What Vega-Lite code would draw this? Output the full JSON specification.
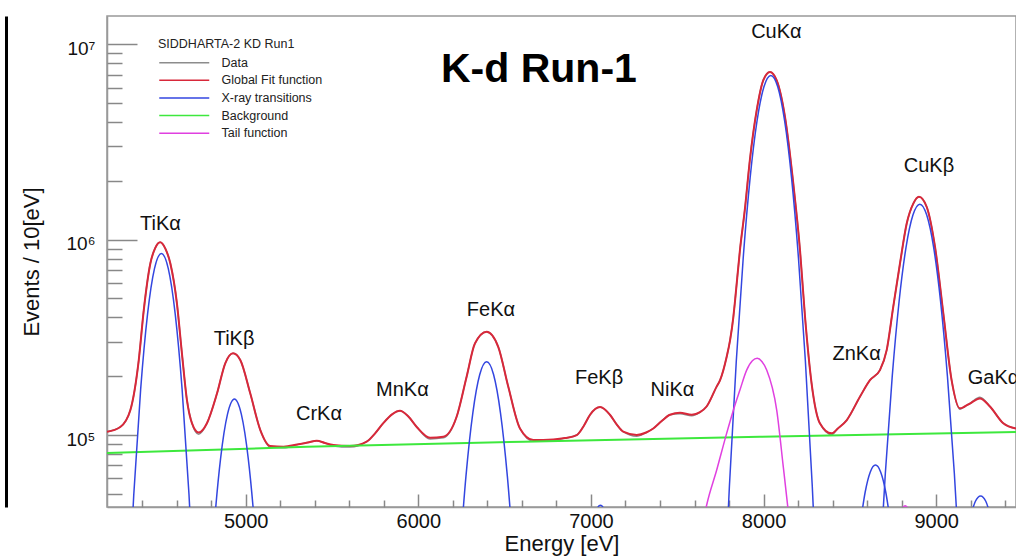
{
  "$schema": "https://vega.github.io/schema/vega-lite/v6.json",
  "width": 909,
  "height": 491,
  "autosize": {"type": "none"},
  "padding": {"left": 107, "top": 16, "right": 0, "bottom": 52},
  "background": "white",
  "config": {"view": {"stroke": "#999999", "strokeWidth": 1.5}},
  "title": {"text": "K-d Run-1", "anchor": "start", "dx": 435, "dy": 107, "offset": 0, "baseline": "alphabetic", "font": "Liberation Sans", "fontSize": 41, "fontWeight": "bold", "color": "#000000"},
  "datasets": {
    "data": [
      {"E":4197,"V":104000,"series":"Data"},{"E":4274,"V":110000,"series":"Data"},{"E":4332,"V":134000,"series":"Data"},{"E":4381,"V":242000,"series":"Data"},{"E":4410,"V":436000,"series":"Data"},{"E":4448,"V":755000,"series":"Data"},{"E":4476,"V":905000,"series":"Data"},{"E":4505,"V":970000,"series":"Data"},{"E":4535,"V":900000,"series":"Data"},{"E":4564,"V":755000,"series":"Data"},{"E":4602,"V":472000,"series":"Data"},{"E":4631,"V":262000,"series":"Data"},{"E":4660,"V":151000,"series":"Data"},{"E":4689,"V":115000,"series":"Data"},{"E":4728,"V":101000,"series":"Data"},{"E":4776,"V":115000,"series":"Data"},{"E":4834,"V":163000,"series":"Data"},{"E":4882,"V":233000,"series":"Data"},{"E":4927,"V":262000,"series":"Data"},{"E":4969,"V":242000,"series":"Data"},{"E":5027,"V":163000,"series":"Data"},{"E":5085,"V":106000,"series":"Data"},{"E":5143,"V":86500,"series":"Data"},{"E":5220,"V":86000,"series":"Data"},{"E":5300,"V":89500,"series":"Data"},{"E":5360,"V":91500,"series":"Data"},{"E":5412,"V":93500,"series":"Data"},{"E":5460,"V":91000,"series":"Data"},{"E":5508,"V":88000,"series":"Data"},{"E":5604,"V":86800,"series":"Data"},{"E":5701,"V":92500,"series":"Data"},{"E":5750,"V":102000,"series":"Data"},{"E":5797,"V":115000,"series":"Data"},{"E":5850,"V":128000,"series":"Data"},{"E":5894,"V":133000,"series":"Data"},{"E":5940,"V":125000,"series":"Data"},{"E":5991,"V":110000,"series":"Data"},{"E":6068,"V":95500,"series":"Data"},{"E":6145,"V":96800,"series":"Data"},{"E":6222,"V":124000,"series":"Data"},{"E":6280,"V":199000,"series":"Data"},{"E":6328,"V":294000,"series":"Data"},{"E":6396,"V":338000,"series":"Data"},{"E":6463,"V":283000,"series":"Data"},{"E":6521,"V":177000,"series":"Data"},{"E":6589,"V":108000,"series":"Data"},{"E":6666,"V":93000,"series":"Data"},{"E":6782,"V":93800,"series":"Data"},{"E":6850,"V":96500,"series":"Data"},{"E":6918,"V":100000,"series":"Data"},{"E":6960,"V":112000,"series":"Data"},{"E":6995,"V":127000,"series":"Data"},{"E":7053,"V":139000,"series":"Data"},{"E":7110,"V":127000,"series":"Data"},{"E":7150,"V":113000,"series":"Data"},{"E":7187,"V":104000,"series":"Data"},{"E":7265,"V":98500,"series":"Data"},{"E":7320,"V":103000,"series":"Data"},{"E":7361,"V":108000,"series":"Data"},{"E":7410,"V":118000,"series":"Data"},{"E":7458,"V":127000,"series":"Data"},{"E":7516,"V":128500,"series":"Data"},{"E":7584,"V":125500,"series":"Data"},{"E":7632,"V":131000,"series":"Data"},{"E":7670,"V":140000,"series":"Data"},{"E":7728,"V":177000,"series":"Data"},{"E":7748,"V":191000,"series":"Data"},{"E":7786,"V":251000,"series":"Data"},{"E":7806,"V":306000,"series":"Data"},{"E":7825,"V":403000,"series":"Data"},{"E":7835,"V":490000,"series":"Data"},{"E":7863,"V":883000,"series":"Data"},{"E":7892,"V":1440000,"series":"Data"},{"E":7921,"V":2580000,"series":"Data"},{"E":7960,"V":4590000,"series":"Data"},{"E":7998,"V":6540000,"series":"Data"},{"E":8037,"V":7220000,"series":"Data"},{"E":8076,"V":6540000,"series":"Data"},{"E":8124,"V":4250000,"series":"Data"},{"E":8172,"V":1940000,"series":"Data"},{"E":8211,"V":883000,"series":"Data"},{"E":8240,"V":403000,"series":"Data"},{"E":8278,"V":184000,"series":"Data"},{"E":8326,"V":115000,"series":"Data"},{"E":8394,"V":100500,"series":"Data"},{"E":8430,"V":108000,"series":"Data"},{"E":8481,"V":119000,"series":"Data"},{"E":8558,"V":157000,"series":"Data"},{"E":8616,"V":191000,"series":"Data"},{"E":8674,"V":215000,"series":"Data"},{"E":8713,"V":272000,"series":"Data"},{"E":8751,"V":453000,"series":"Data"},{"E":8790,"V":755000,"series":"Data"},{"E":8829,"V":1210000,"series":"Data"},{"E":8867,"V":1530000,"series":"Data"},{"E":8900,"V":1660000,"series":"Data"},{"E":8945,"V":1470000,"series":"Data"},{"E":8993,"V":918000,"series":"Data"},{"E":9041,"V":420000,"series":"Data"},{"E":9089,"V":191000,"series":"Data"},{"E":9137,"V":135500,"series":"Data"},{"E":9165,"V":140000,"series":"Data"},{"E":9195,"V":145000,"series":"Data"},{"E":9253,"V":156000,"series":"Data"},{"E":9311,"V":140000,"series":"Data"},{"E":9388,"V":115000,"series":"Data"},{"E":9462,"V":108000,"series":"Data"}
    ],
    "fit": [
      {"E":4197,"V":104000,"series":"Global Fit function"},{"E":4274,"V":110000,"series":"Global Fit function"},{"E":4332,"V":134000,"series":"Global Fit function"},{"E":4381,"V":242000,"series":"Global Fit function"},{"E":4410,"V":436000,"series":"Global Fit function"},{"E":4448,"V":755000,"series":"Global Fit function"},{"E":4476,"V":905000,"series":"Global Fit function"},{"E":4505,"V":970000,"series":"Global Fit function"},{"E":4535,"V":900000,"series":"Global Fit function"},{"E":4564,"V":755000,"series":"Global Fit function"},{"E":4602,"V":472000,"series":"Global Fit function"},{"E":4631,"V":262000,"series":"Global Fit function"},{"E":4660,"V":151000,"series":"Global Fit function"},{"E":4689,"V":115000,"series":"Global Fit function"},{"E":4728,"V":103000,"series":"Global Fit function"},{"E":4776,"V":115000,"series":"Global Fit function"},{"E":4834,"V":163000,"series":"Global Fit function"},{"E":4882,"V":233000,"series":"Global Fit function"},{"E":4927,"V":262000,"series":"Global Fit function"},{"E":4969,"V":242000,"series":"Global Fit function"},{"E":5027,"V":163000,"series":"Global Fit function"},{"E":5085,"V":106000,"series":"Global Fit function"},{"E":5143,"V":87800,"series":"Global Fit function"},{"E":5220,"V":87200,"series":"Global Fit function"},{"E":5300,"V":89500,"series":"Global Fit function"},{"E":5360,"V":91500,"series":"Global Fit function"},{"E":5412,"V":93500,"series":"Global Fit function"},{"E":5460,"V":91000,"series":"Global Fit function"},{"E":5508,"V":89000,"series":"Global Fit function"},{"E":5604,"V":87800,"series":"Global Fit function"},{"E":5701,"V":92500,"series":"Global Fit function"},{"E":5750,"V":102000,"series":"Global Fit function"},{"E":5797,"V":115000,"series":"Global Fit function"},{"E":5850,"V":128000,"series":"Global Fit function"},{"E":5894,"V":133000,"series":"Global Fit function"},{"E":5940,"V":125000,"series":"Global Fit function"},{"E":5991,"V":110000,"series":"Global Fit function"},{"E":6068,"V":96900,"series":"Global Fit function"},{"E":6145,"V":98000,"series":"Global Fit function"},{"E":6222,"V":124000,"series":"Global Fit function"},{"E":6280,"V":199000,"series":"Global Fit function"},{"E":6328,"V":294000,"series":"Global Fit function"},{"E":6396,"V":338000,"series":"Global Fit function"},{"E":6463,"V":283000,"series":"Global Fit function"},{"E":6521,"V":177000,"series":"Global Fit function"},{"E":6589,"V":108000,"series":"Global Fit function"},{"E":6666,"V":94300,"series":"Global Fit function"},{"E":6782,"V":95000,"series":"Global Fit function"},{"E":6850,"V":96500,"series":"Global Fit function"},{"E":6918,"V":100000,"series":"Global Fit function"},{"E":6960,"V":112000,"series":"Global Fit function"},{"E":6995,"V":127000,"series":"Global Fit function"},{"E":7053,"V":139000,"series":"Global Fit function"},{"E":7110,"V":127000,"series":"Global Fit function"},{"E":7150,"V":113000,"series":"Global Fit function"},{"E":7187,"V":104000,"series":"Global Fit function"},{"E":7265,"V":100000,"series":"Global Fit function"},{"E":7320,"V":103000,"series":"Global Fit function"},{"E":7361,"V":108000,"series":"Global Fit function"},{"E":7410,"V":118000,"series":"Global Fit function"},{"E":7458,"V":127000,"series":"Global Fit function"},{"E":7516,"V":130000,"series":"Global Fit function"},{"E":7584,"V":127000,"series":"Global Fit function"},{"E":7632,"V":131000,"series":"Global Fit function"},{"E":7670,"V":140000,"series":"Global Fit function"},{"E":7728,"V":177000,"series":"Global Fit function"},{"E":7748,"V":191000,"series":"Global Fit function"},{"E":7786,"V":251000,"series":"Global Fit function"},{"E":7806,"V":306000,"series":"Global Fit function"},{"E":7825,"V":403000,"series":"Global Fit function"},{"E":7835,"V":490000,"series":"Global Fit function"},{"E":7863,"V":883000,"series":"Global Fit function"},{"E":7892,"V":1440000,"series":"Global Fit function"},{"E":7921,"V":2580000,"series":"Global Fit function"},{"E":7960,"V":4590000,"series":"Global Fit function"},{"E":7998,"V":6540000,"series":"Global Fit function"},{"E":8037,"V":7220000,"series":"Global Fit function"},{"E":8076,"V":6540000,"series":"Global Fit function"},{"E":8124,"V":4250000,"series":"Global Fit function"},{"E":8172,"V":1940000,"series":"Global Fit function"},{"E":8211,"V":883000,"series":"Global Fit function"},{"E":8240,"V":403000,"series":"Global Fit function"},{"E":8278,"V":184000,"series":"Global Fit function"},{"E":8326,"V":115000,"series":"Global Fit function"},{"E":8394,"V":102000,"series":"Global Fit function"},{"E":8430,"V":108000,"series":"Global Fit function"},{"E":8481,"V":119000,"series":"Global Fit function"},{"E":8558,"V":157000,"series":"Global Fit function"},{"E":8616,"V":191000,"series":"Global Fit function"},{"E":8674,"V":215000,"series":"Global Fit function"},{"E":8713,"V":272000,"series":"Global Fit function"},{"E":8751,"V":453000,"series":"Global Fit function"},{"E":8790,"V":755000,"series":"Global Fit function"},{"E":8829,"V":1210000,"series":"Global Fit function"},{"E":8867,"V":1530000,"series":"Global Fit function"},{"E":8900,"V":1660000,"series":"Global Fit function"},{"E":8945,"V":1470000,"series":"Global Fit function"},{"E":8993,"V":918000,"series":"Global Fit function"},{"E":9041,"V":420000,"series":"Global Fit function"},{"E":9089,"V":191000,"series":"Global Fit function"},{"E":9137,"V":137000,"series":"Global Fit function"},{"E":9165,"V":140000,"series":"Global Fit function"},{"E":9195,"V":145000,"series":"Global Fit function"},{"E":9253,"V":154000,"series":"Global Fit function"},{"E":9311,"V":140000,"series":"Global Fit function"},{"E":9388,"V":115000,"series":"Global Fit function"},{"E":9462,"V":108000,"series":"Global Fit function"}
    ],
    "xray": [
      {"E":4312,"V":10000,"series":"X-ray transitions","peak":"TiKa"},{"E":4352,"V":49500,"series":"X-ray transitions","peak":"TiKa"},{"E":4392,"V":171700,"series":"X-ray transitions","peak":"TiKa"},{"E":4432,"V":417000,"series":"X-ray transitions","peak":"TiKa"},{"E":4472,"V":711000,"series":"X-ray transitions","peak":"TiKa"},{"E":4512,"V":849000,"series":"X-ray transitions","peak":"TiKa"},{"E":4552,"V":711000,"series":"X-ray transitions","peak":"TiKa"},{"E":4592,"V":417000,"series":"X-ray transitions","peak":"TiKa"},{"E":4632,"V":171700,"series":"X-ray transitions","peak":"TiKa"},{"E":4672,"V":49500,"series":"X-ray transitions","peak":"TiKa"},{"E":4712,"V":10000,"series":"X-ray transitions","peak":"TiKa"},
      {"E":4775,"V":9400,"series":"X-ray transitions","peak":"TiKb"},{"E":4815,"V":31800,"series":"X-ray transitions","peak":"TiKb"},{"E":4855,"V":76000,"series":"X-ray transitions","peak":"TiKb"},{"E":4895,"V":128000,"series":"X-ray transitions","peak":"TiKb"},{"E":4935,"V":153000,"series":"X-ray transitions","peak":"TiKb"},{"E":4975,"V":128000,"series":"X-ray transitions","peak":"TiKb"},{"E":5015,"V":76000,"series":"X-ray transitions","peak":"TiKb"},{"E":5055,"V":31800,"series":"X-ray transitions","peak":"TiKb"},{"E":5095,"V":9400,"series":"X-ray transitions","peak":"TiKb"},
      {"E":6236,"V":21400,"series":"X-ray transitions","peak":"FeKa"},{"E":6276,"V":61400,"series":"X-ray transitions","peak":"FeKa"},{"E":6316,"V":130000,"series":"X-ray transitions","peak":"FeKa"},{"E":6356,"V":204000,"series":"X-ray transitions","peak":"FeKa"},{"E":6396,"V":237000,"series":"X-ray transitions","peak":"FeKa"},{"E":6436,"V":204000,"series":"X-ray transitions","peak":"FeKa"},{"E":6476,"V":130000,"series":"X-ray transitions","peak":"FeKa"},{"E":6516,"V":61400,"series":"X-ray transitions","peak":"FeKa"},{"E":6556,"V":21400,"series":"X-ray transitions","peak":"FeKa"},
      {"E":6995,"V":30000,"series":"X-ray transitions","peak":"FeKb"},{"E":7025,"V":39800,"series":"X-ray transitions","peak":"FeKb"},{"E":7055,"V":43700,"series":"X-ray transitions","peak":"FeKb"},{"E":7085,"V":39800,"series":"X-ray transitions","peak":"FeKb"},{"E":7115,"V":30000,"series":"X-ray transitions","peak":"FeKb"},
      {"E":7762,"V":9500,"series":"X-ray transitions","peak":"CuKa"},{"E":7802,"V":54700,"series":"X-ray transitions","peak":"CuKa"},{"E":7842,"V":240000,"series":"X-ray transitions","peak":"CuKa"},{"E":7882,"V":806000,"series":"X-ray transitions","peak":"CuKa"},{"E":7922,"V":2070000,"series":"X-ray transitions","peak":"CuKa"},{"E":7962,"V":4050000,"series":"X-ray transitions","peak":"CuKa"},{"E":8002,"V":6060000,"series":"X-ray transitions","peak":"CuKa"},{"E":8042,"V":6930000,"series":"X-ray transitions","peak":"CuKa"},{"E":8082,"V":6060000,"series":"X-ray transitions","peak":"CuKa"},{"E":8122,"V":4050000,"series":"X-ray transitions","peak":"CuKa"},{"E":8162,"V":2070000,"series":"X-ray transitions","peak":"CuKa"},{"E":8202,"V":806000,"series":"X-ray transitions","peak":"CuKa"},{"E":8242,"V":240000,"series":"X-ray transitions","peak":"CuKa"},{"E":8282,"V":54700,"series":"X-ray transitions","peak":"CuKa"},{"E":8322,"V":9500,"series":"X-ray transitions","peak":"CuKa"},
      {"E":8558,"V":33800,"series":"X-ray transitions","peak":"ZnKa"},{"E":8588,"V":50800,"series":"X-ray transitions","peak":"ZnKa"},{"E":8618,"V":64700,"series":"X-ray transitions","peak":"ZnKa"},{"E":8648,"V":70200,"series":"X-ray transitions","peak":"ZnKa"},{"E":8678,"V":64700,"series":"X-ray transitions","peak":"ZnKa"},{"E":8708,"V":50800,"series":"X-ray transitions","peak":"ZnKa"},{"E":8738,"V":33800,"series":"X-ray transitions","peak":"ZnKa"},
      {"E":8665,"V":15700,"series":"X-ray transitions","peak":"CuKb"},{"E":8705,"V":63400,"series":"X-ray transitions","peak":"CuKb"},{"E":8745,"V":199000,"series":"X-ray transitions","peak":"CuKb"},{"E":8785,"V":484000,"series":"X-ray transitions","peak":"CuKb"},{"E":8825,"V":914000,"series":"X-ray transitions","peak":"CuKb"},{"E":8865,"V":1337000,"series":"X-ray transitions","peak":"CuKb"},{"E":8905,"V":1520000,"series":"X-ray transitions","peak":"CuKb"},{"E":8945,"V":1337000,"series":"X-ray transitions","peak":"CuKb"},{"E":8985,"V":914000,"series":"X-ray transitions","peak":"CuKb"},{"E":9025,"V":484000,"series":"X-ray transitions","peak":"CuKb"},{"E":9065,"V":199000,"series":"X-ray transitions","peak":"CuKb"},{"E":9105,"V":63400,"series":"X-ray transitions","peak":"CuKb"},{"E":9145,"V":15700,"series":"X-ray transitions","peak":"CuKb"},
      {"E":9197,"V":37900,"series":"X-ray transitions","peak":"GaKa"},{"E":9227,"V":45800,"series":"X-ray transitions","peak":"GaKa"},{"E":9257,"V":48800,"series":"X-ray transitions","peak":"GaKa"},{"E":9287,"V":45800,"series":"X-ray transitions","peak":"GaKa"},{"E":9317,"V":37900,"series":"X-ray transitions","peak":"GaKa"}
    ],
    "bg": [
      {"E":4197,"V":81000,"series":"Background"},{"E":5355,"V":87000,"series":"Background"},{"E":6879,"V":93500,"series":"Background"},{"E":7979,"V":98000,"series":"Background"},{"E":9462,"V":103500,"series":"Background"}
    ],
    "tail": [
      {"E":7640,"V":32000,"series":"Tail function","peak":"main"},{"E":7670,"V":43700,"series":"Tail function","peak":"main"},{"E":7728,"V":66000,"series":"Tail function","peak":"main"},{"E":7786,"V":102000,"series":"Tail function","peak":"main"},{"E":7825,"V":134000,"series":"Tail function","peak":"main"},{"E":7863,"V":170000,"series":"Tail function","peak":"main"},{"E":7902,"V":215000,"series":"Tail function","peak":"main"},{"E":7935,"V":240000,"series":"Tail function","peak":"main"},{"E":7963,"V":247000,"series":"Tail function","peak":"main"},{"E":7990,"V":238000,"series":"Tail function","peak":"main"},{"E":8018,"V":215000,"series":"Tail function","peak":"main"},{"E":8076,"V":134000,"series":"Tail function","peak":"main"},{"E":8114,"V":68900,"series":"Tail function","peak":"main"},{"E":8140,"V":43000,"series":"Tail function","peak":"main"},{"E":8160,"V":29000,"series":"Tail function","peak":"main"},
      {"E":8795,"V":41000,"series":"Tail function","peak":"small"},{"E":8820,"V":43500,"series":"Tail function","peak":"small"},{"E":8845,"V":41000,"series":"Tail function","peak":"small"}
    ],
    "labels": [
      {"label":"TiKα","E":4507,"V":1200000},{"label":"TiKβ","E":4933,"V":310000},{"label":"CrKα","E":5425,"V":128000},{"label":"MnKα","E":5908,"V":170000},{"label":"FeKα","E":6421,"V":436000},{"label":"FeKβ","E":7047,"V":196000},{"label":"NiKα","E":7472,"V":170000},{"label":"CuKα","E":8074,"V":11500000},{"label":"CuKβ","E":8958,"V":2380000},{"label":"ZnKα","E":8539,"V":260000},{"label":"GaKα","E":9332,"V":196000}
    ]
  },
  "resolve": {"axis": {"x": "independent", "y": "independent"}},
  "layer": [
    {
      "data": {"name": "data"},
      "mark": {"type": "line", "clip": true, "interpolate": "monotone", "strokeWidth": 1.5},
      "encoding": {
        "x": {"field": "E", "type": "quantitative", "scale": {"domain": [4197, 9462], "nice": false, "zero": false},
          "axis": {"orient": "bottom", "values": [5000, 6000, 7000, 8000, 9000], "format": "d", "grid": false, "tickSize": -13, "tickColor": "#888888", "tickWidth": 1.5, "domainColor": "#999999", "domainWidth": 1.5, "labelFont": "Liberation Sans", "labelFontSize": 20, "labelColor": "#111111", "labelPadding": 17, "labelFlush": false, "labelOverlap": false, "title": "Energy [eV]", "titleFont": "Liberation Sans", "titleFontSize": 22, "titleFontWeight": "normal", "titleColor": "#111111", "titlePadding": 2}},
        "y": {"field": "V", "type": "quantitative", "scale": {"type": "log", "domain": [42820, 13960000], "nice": false},
          "axis": {"orient": "left", "values": [100000, 1000000, 10000000], "grid": false, "tickSize": -30, "tickColor": "#888888", "tickWidth": 1.5, "domainColor": "#999999", "domainWidth": 1.5, "labelExpr": "datum.value < 500000 ? '10\u2075' : datum.value < 5000000 ? '10\u2076' : '10\u2077'", "labelFont": "Liberation Sans", "labelFontSize": 19, "labelColor": "#111111", "labelPadding": 42, "labelOffset": 4, "labelFlush": false, "labelOverlap": false, "title": "Events / 10[eV]", "titleFont": "Liberation Sans", "titleFontSize": 22, "titleFontWeight": "normal", "titleColor": "#111111", "titlePadding": 22}},
        "color": {"field": "series", "type": "nominal",
          "scale": {"domain": ["Data", "Global Fit function", "X-ray transitions", "Background", "Tail function"], "range": ["#8c8c8c", "#d8283a", "#3346e0", "#3de83d", "#e040e0"]},
          "legend": {"orient": "none", "legendX": 51, "legendY": 22, "padding": 0, "title": "SIDDHARTA-2 KD Run1", "titleFont": "Liberation Sans", "titleFontSize": 12.5, "titleFontWeight": "normal", "titleColor": "#222222", "titlePadding": 6, "labelFont": "Liberation Sans", "labelFontSize": 12.5, "labelColor": "#222222", "symbolType": "M-1,0H9", "symbolSize": 100, "symbolStrokeWidth": 1.5, "labelOffset": 51, "rowPadding": 4.6}}
      }
    },
    {
      "data": {"name": "fit"},
      "mark": {"type": "line", "clip": true, "interpolate": "monotone", "strokeWidth": 2},
      "encoding": {
        "x": {"field": "E", "type": "quantitative", "scale": {"domain": [4197, 9462], "nice": false, "zero": false},
          "axis": {"orient": "bottom", "values": [4400, 4600, 4800, 5200, 5400, 5600, 5800, 6200, 6400, 6600, 6800, 7200, 7400, 7600, 7800, 8200, 8400, 8600, 8800, 9200, 9400], "grid": false, "tickSize": -7, "tickColor": "#888888", "tickWidth": 1.5, "domain": false, "labels": false, "title": null}},
        "y": {"field": "V", "type": "quantitative", "scale": {"type": "log", "domain": [42820, 13960000], "nice": false},
          "axis": {"orient": "left", "values": [50000, 60000, 70000, 80000, 90000, 200000, 300000, 400000, 500000, 600000, 700000, 800000, 900000, 2000000, 3000000, 4000000, 5000000, 6000000, 7000000, 8000000, 9000000], "grid": false, "tickSize": -15, "tickColor": "#888888", "tickWidth": 1.5, "domain": false, "labels": false, "title": null}},
        "color": {"field": "series", "type": "nominal",
          "scale": {"domain": ["Data", "Global Fit function", "X-ray transitions", "Background", "Tail function"], "range": ["#8c8c8c", "#d8283a", "#3346e0", "#3de83d", "#e040e0"]}}
      }
    },
    {
      "data": {"name": "bg"},
      "mark": {"type": "line", "clip": true, "interpolate": "monotone", "strokeWidth": 2},
      "encoding": {
        "x": {"field": "E", "type": "quantitative", "scale": {"domain": [4197, 9462], "nice": false, "zero": false}, "axis": null},
        "y": {"field": "V", "type": "quantitative", "scale": {"type": "log", "domain": [42820, 13960000], "nice": false},
          "axis": {"orient": "left", "offset": 101, "grid": false, "ticks": false, "labels": false, "domainColor": "#000000", "domainWidth": 3, "title": null}},
        "color": {"field": "series", "type": "nominal",
          "scale": {"domain": ["Data", "Global Fit function", "X-ray transitions", "Background", "Tail function"], "range": ["#8c8c8c", "#d8283a", "#3346e0", "#3de83d", "#e040e0"]}}
      }
    },
    {
      "data": {"name": "xray"},
      "mark": {"type": "line", "clip": true, "interpolate": "monotone", "strokeWidth": 1.5},
      "encoding": {
        "x": {"field": "E", "type": "quantitative", "scale": {"domain": [4197, 9462], "nice": false, "zero": false}, "axis": null},
        "y": {"field": "V", "type": "quantitative", "scale": {"type": "log", "domain": [42820, 13960000], "nice": false}, "axis": null},
        "detail": {"field": "peak"},
        "color": {"field": "series", "type": "nominal",
          "scale": {"domain": ["Data", "Global Fit function", "X-ray transitions", "Background", "Tail function"], "range": ["#8c8c8c", "#d8283a", "#3346e0", "#3de83d", "#e040e0"]}}
      }
    },
    {
      "data": {"name": "tail"},
      "mark": {"type": "line", "clip": true, "interpolate": "monotone", "strokeWidth": 1.5},
      "encoding": {
        "x": {"field": "E", "type": "quantitative", "scale": {"domain": [4197, 9462], "nice": false, "zero": false}, "axis": null},
        "y": {"field": "V", "type": "quantitative", "scale": {"type": "log", "domain": [42820, 13960000], "nice": false}, "axis": null},
        "detail": {"field": "peak"},
        "color": {"field": "series", "type": "nominal",
          "scale": {"domain": ["Data", "Global Fit function", "X-ray transitions", "Background", "Tail function"], "range": ["#8c8c8c", "#d8283a", "#3346e0", "#3de83d", "#e040e0"]}}
      }
    },
    {
      "data": {"name": "labels"},
      "mark": {"type": "text", "font": "Liberation Sans", "fontSize": 20, "color": "#111111", "align": "center", "baseline": "middle"},
      "encoding": {
        "x": {"field": "E", "type": "quantitative", "scale": {"domain": [4197, 9462], "nice": false, "zero": false}, "axis": null},
        "y": {"field": "V", "type": "quantitative", "scale": {"type": "log", "domain": [42820, 13960000], "nice": false}, "axis": null},
        "text": {"field": "label"}
      }
    }
  ]
}
